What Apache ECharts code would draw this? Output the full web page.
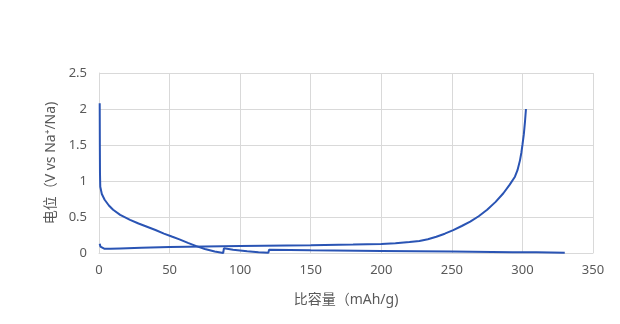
<!DOCTYPE html>
<html><head><meta charset="utf-8">
<script src="https://cdn.jsdelivr.net/npm/echarts@6/dist/echarts.min.js"></script>
<style>html,body{margin:0;padding:0;background:#fff}#c{width:620px;height:324px}</style>
</head><body><div id="c"></div>
<script>
const xTicks = [0, 50, 100, 150, 200, 250, 300, 350];
const yTicks = [0, 0.5, 1, 1.5, 2, 2.5];
const xName = '比容量（mAh/g)';
const yName = '电位（V vs Na⁺/Na)';
const discharge = [
  [0.5,2.08],[0.6,1.5],[0.7,1.1],[0.9,0.92],[2,0.82],[4,0.74],[7,0.66],[10,0.6],[15,0.53],[22,0.46],
  [28,0.41],[34,0.365],[40,0.32],[46,0.27],[52,0.225],[57,0.19],[63,0.14],[69,0.095],[75,0.055],
  [82,0.02],[88,0.0],[88.5,0.065],[95,0.045],[105,0.025],[113,0.012],[120,0.005],[120.5,0.045],
  [150,0.037],[200,0.028],[250,0.02],[293,0.012],[294,0.02],[310,0.012],[330,0.004]
];
const charge = [
  [0.5,0.13],[1,0.09],[2,0.065],[4,0.058],[8,0.058],[15,0.063],[30,0.073],[50,0.083],[100,0.098],
  [150,0.108],[180,0.117],[200,0.126],[210,0.135],[220,0.152],[227,0.168],[233,0.192],[239,0.226],
  [245,0.268],[251,0.318],[257,0.375],[263,0.435],[269,0.51],[275,0.6],[281,0.71],
  [286.5,0.83],[291,0.95],[294.7,1.06],[296.5,1.15],[298.3,1.29],[299.3,1.4],[300,1.5],[301,1.65],[301.8,1.82],[302.5,2.0]
];
const font = '"Noto Sans", "Noto Sans CJK SC", sans-serif';
const chart = echarts.init(document.getElementById('c'));
chart.setOption({
  animation: false,
  textStyle: {fontFamily: font},
  grid: {left: 99, right: 27, top: 73, bottom: 71},
  xAxis: {
    type: 'value', min: xTicks[0], max: xTicks[xTicks.length-1], interval: 50,
    name: xName, nameLocation: 'middle', nameGap: 40,
    nameTextStyle: {color: '#595959', fontSize: 14, fontFamily: font},
    axisLine: {show: true, lineStyle: {color: '#d9d9d9'}},
    axisTick: {show: false},
    axisLabel: {color: '#595959', fontSize: 13, margin: 11},
    splitLine: {show: true, lineStyle: {color: '#d9d9d9'}}
  },
  yAxis: {
    type: 'value', min: yTicks[0], max: yTicks[yTicks.length-1], interval: 0.5,
    name: yName, nameLocation: 'middle', nameGap: 32, nameRotate: 90,
    nameTextStyle: {color: '#595959', fontSize: 14, fontFamily: font},
    axisLine: {show: true, lineStyle: {color: '#d9d9d9'}},
    axisTick: {show: false},
    axisLabel: {color: '#595959', fontSize: 13, margin: 12},
    splitLine: {show: true, lineStyle: {color: '#d9d9d9'}}
  },
  series: [
    {type: 'line', data: discharge, showSymbol: false, lineStyle: {color: '#2a54b4', width: 2}},
    {type: 'line', data: charge, showSymbol: false, lineStyle: {color: '#2a54b4', width: 2}}
  ]
});
</script></body></html>
